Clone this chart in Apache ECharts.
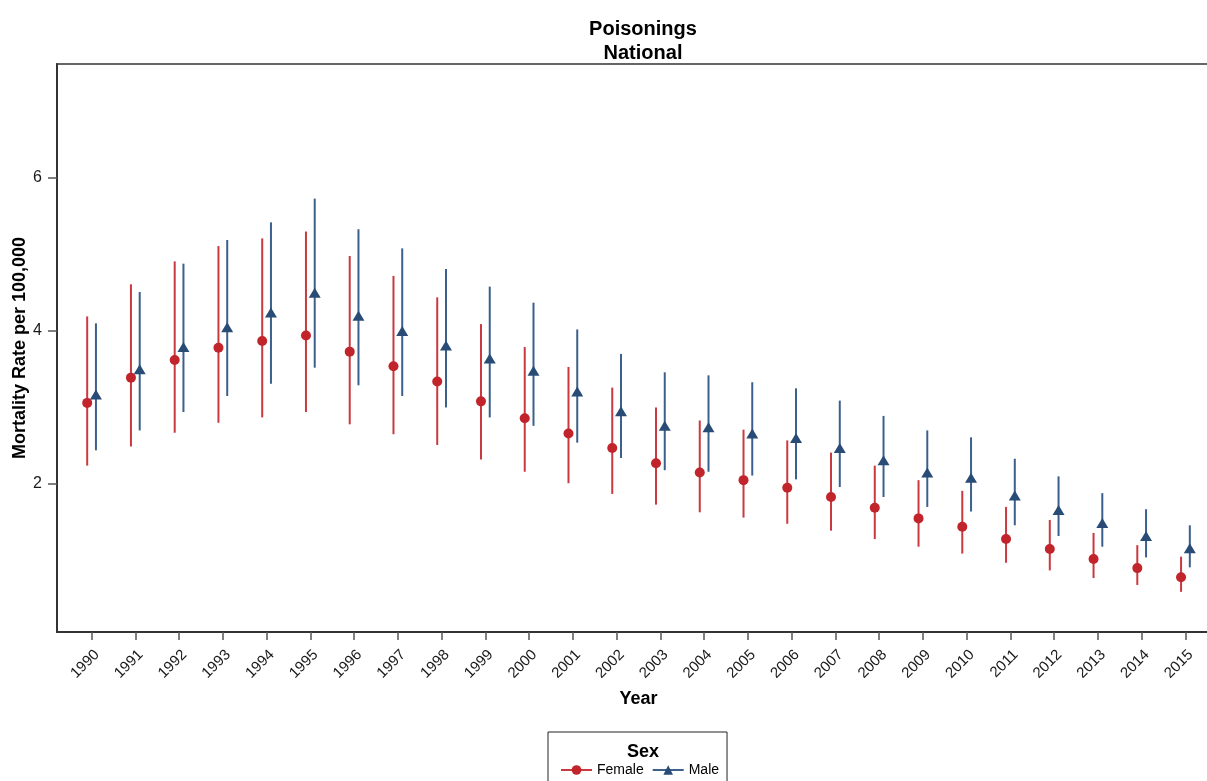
<!DOCTYPE html>
<html>
<head>
<meta charset="utf-8">
<script src="https://cdn.jsdelivr.net/npm/echarts@6/dist/echarts.min.js"></script>
<style>
  html, body { margin: 0; padding: 0; background: #fff; }
  #chart { width: 1207px; height: 781px; }
</style>
</head>
<body>
<div id="chart"></div>
<script>
// rates per 100,000 with confidence limits
const years = [1990, 1991, 1992, 1993, 1994, 1995, 1996, 1997, 1998, 1999, 2000, 2001, 2002,
  2003, 2004, 2005, 2006, 2007, 2008, 2009, 2010, 2011, 2012, 2013, 2014, 2015];

const femaleRate = [3.06, 3.39, 3.62, 3.78, 3.87, 3.94, 3.73, 3.54, 3.34, 3.08, 2.86, 2.66, 2.47,
  2.27, 2.15, 2.05, 1.95, 1.83, 1.69, 1.55, 1.44, 1.28, 1.15, 1.02, 0.90, 0.78];
const femaleLow = [2.24, 2.49, 2.67, 2.80, 2.87, 2.94, 2.78, 2.65, 2.51, 2.32, 2.16, 2.01, 1.87,
  1.73, 1.63, 1.56, 1.48, 1.39, 1.28, 1.18, 1.09, 0.97, 0.87, 0.77, 0.68, 0.59];
const femaleHigh = [4.19, 4.61, 4.91, 5.11, 5.21, 5.30, 4.98, 4.72, 4.44, 4.09, 3.79, 3.53, 3.26,
  3.00, 2.83, 2.71, 2.57, 2.41, 2.24, 2.05, 1.91, 1.70, 1.53, 1.36, 1.20, 1.05];

const maleRate = [3.17, 3.50, 3.79, 4.05, 4.24, 4.50, 4.20, 4.00, 3.81, 3.64, 3.48, 3.21, 2.95,
  2.76, 2.74, 2.66, 2.60, 2.47, 2.31, 2.15, 2.08, 1.85, 1.66, 1.49, 1.32, 1.16];
const maleLow = [2.44, 2.70, 2.94, 3.15, 3.31, 3.52, 3.29, 3.15, 3.00, 2.87, 2.76, 2.54, 2.34,
  2.18, 2.16, 2.11, 2.06, 1.96, 1.83, 1.70, 1.64, 1.46, 1.32, 1.18, 1.04, 0.91];
const maleHigh = [4.10, 4.51, 4.88, 5.19, 5.42, 5.73, 5.33, 5.08, 4.81, 4.58, 4.37, 4.02, 3.70,
  3.46, 3.42, 3.33, 3.25, 3.09, 2.89, 2.70, 2.61, 2.33, 2.10, 1.88, 1.67, 1.46];

const yTicks = [2, 4, 6];

const FONT = '"Liberation Sans", Arial, sans-serif';
const femaleDot = '#c1242b';
const femaleBar = '#c9393f';
const maleDot = '#284c75';
const maleBar = '#3a608b';
const shift = 0.1; // female a bit left, male a bit right of the year

function barSeries(name, low, high, dx, color) {
  return {
    name: name,
    type: 'custom',
    z: 1,
    encode: { x: 0, y: [1, 2] },
    data: years.map((y, i) => [y + dx, low[i], high[i]]),
    renderItem: (params, api) => {
      const x = api.value(0);
      const p1 = api.coord([x, api.value(1)]);
      const p2 = api.coord([x, api.value(2)]);
      return {
        type: 'line',
        shape: { x1: p1[0], y1: p1[1], x2: p2[0], y2: p2[1] },
        style: { stroke: color, lineWidth: 2 },
      };
    },
  };
}

function pointSeries(name, rate, dx, symbol, size, dot, bar) {
  return {
    name: name,
    type: 'line',
    z: 3,
    data: years.map((y, i) => [y + dx, rate[i]]),
    symbol: symbol,
    symbolSize: size,
    showSymbol: true,
    itemStyle: { color: dot },
    lineStyle: { color: bar, width: 2, opacity: 0 },
  };
}

const chart = echarts.init(document.getElementById('chart'));
chart.setOption({
  animation: false,
  backgroundColor: '#fff',
  textStyle: { fontFamily: FONT },
  title: [
    {
      text: 'Poisonings\nNational',
      left: 638,
      top: 12,
      textAlign: 'center',
      textStyle: { fontFamily: FONT, fontSize: 20, fontWeight: 'bold', color: '#000', lineHeight: 24 },
    },
    {
      text: 'Sex',
      left: 638,
      top: 736,
      textAlign: 'center',
      textStyle: { fontFamily: FONT, fontSize: 18, fontWeight: 'bold', color: '#000', lineHeight: 22 },
    },
  ],
  legend: {
    data: ['Female', 'Male'],
    left: 548,
    top: 732,
    orient: 'horizontal',
    padding: [31, 8, 14, 12],
    itemGap: 8,
    itemWidth: 31,
    itemHeight: 12,
    borderColor: '#222',
    borderWidth: 1,
    textStyle: { fontFamily: FONT, fontSize: 14, color: '#000' },
    lineStyle: { width: 2, opacity: 1 },
  },
  grid: {
    left: 57,
    top: 64,
    width: 1163,
    height: 568,
    outerBoundsMode: 'none',
    containLabel: false,
    show: true,
    borderColor: '#333',
    borderWidth: 1.5,
  },
  xAxis: {
    type: 'value',
    min: 1989.21,
    max: 2015.79,
    name: 'Year',
    nameLocation: 'middle',
    nameGap: 58,
    nameMoveOverlap: false,
    nameTextStyle: { fontFamily: FONT, fontSize: 18, fontWeight: 'bold', color: '#000' },
    axisLine: { show: true, lineStyle: { color: '#333', width: 2 } },
    axisTick: { show: true, length: 8, customValues: years, lineStyle: { color: '#555', width: 1.5 } },
    axisLabel: {
      customValues: years,
      rotate: 45,
      margin: 15,
      align: 'right',
      verticalAlign: 'top',
      fontFamily: FONT,
      fontSize: 15,
      color: '#1a1a1a',
      formatter: (v) => String(Math.round(v)),
    },
    splitLine: { show: false },
  },
  yAxis: {
    type: 'value',
    min: 0.065,
    max: 7.49,
    name: 'Mortality Rate per 100,000',
    nameLocation: 'middle',
    nameGap: 28,
    nameMoveOverlap: false,
    nameTextStyle: { fontFamily: FONT, fontSize: 18, fontWeight: 'bold', color: '#000' },
    axisLine: { show: true, lineStyle: { color: '#333', width: 2 } },
    axisTick: { show: true, length: 9, customValues: yTicks, lineStyle: { color: '#555', width: 1.5 } },
    axisLabel: {
      customValues: yTicks,
      margin: 15,
      fontFamily: FONT,
      fontSize: 16,
      color: '#1a1a1a',
    },
    splitLine: { show: false },
  },
  series: [
    pointSeries('Female', femaleRate, -shift, 'circle', 10, femaleDot, femaleBar),
    pointSeries('Male', maleRate, shift, 'triangle', [12, 10], maleDot, maleBar),
    barSeries('Female', femaleLow, femaleHigh, -shift, femaleBar),
    barSeries('Male', maleLow, maleHigh, shift, maleBar),
  ],
});
</script>
</body>
</html>
